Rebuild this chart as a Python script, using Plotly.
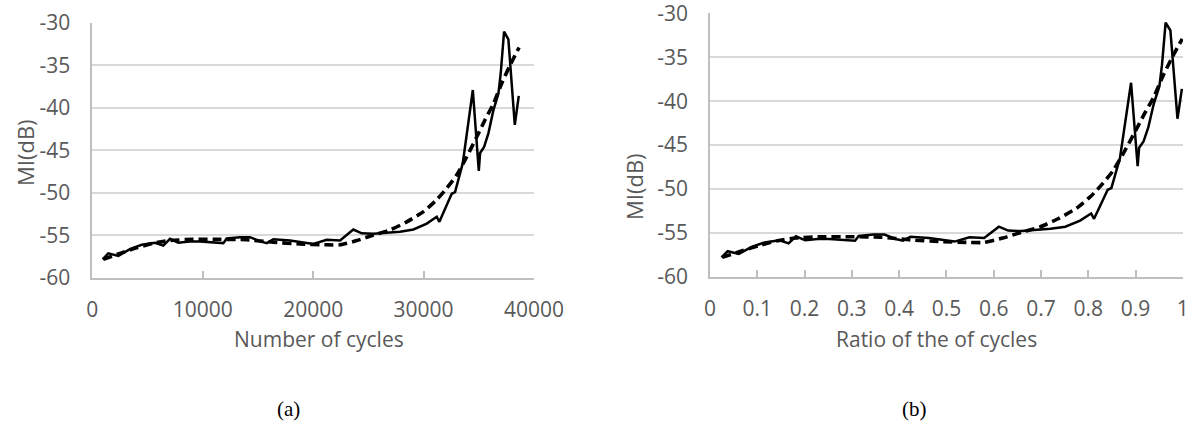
import plotly.graph_objects as go

# ---- data ----
cycles = [940, 1450, 2360, 3410, 4470, 5680, 6430, 7040, 7790, 8800, 9760, 10960,
          11870, 12170, 13380, 14280, 15190, 15800, 16400, 17910, 19110, 20020,
          21230, 22440, 23640, 24400, 25460, 26670, 27870, 29080, 30290, 31190,
          31430, 32040, 32550, 32850, 33550, 34460, 35000, 35120, 35480, 35870,
          36320, 36780, 36990, 37290, 37680, 38260, 38620]
mi_db = [-57.8, -57.1, -57.4, -56.6, -56.1, -55.85, -56.2, -55.4, -55.85, -55.7,
         -55.7, -55.85, -55.9, -55.35, -55.2, -55.2, -55.7, -55.9, -55.45, -55.6,
         -55.85, -56.0, -55.5, -55.6, -54.3, -54.75, -54.8, -54.7, -54.55, -54.3,
         -53.6, -52.8, -53.4, -51.6, -50.1, -49.9, -46.5, -37.9, -47.4, -45.3,
         -44.6, -43.0, -40.3, -38.3, -35.9, -31.05, -31.95, -42.0, -38.6]

trend_cycles = [1000, 2510, 4020, 5530, 7040, 9150, 11570, 13990, 16400, 18810,
                21230, 22440, 23950, 25460, 26970, 28480, 29990, 31190, 32100,
                33000, 33910, 34820, 35570, 36330, 37080, 37830, 38650]
trend_db = [-57.8, -57.1, -56.45, -55.9, -55.6, -55.45, -55.45, -55.5, -55.8, -56.0,
            -56.1, -56.1, -55.6, -54.95, -54.35, -53.4, -52.2, -50.8, -49.45,
            -47.9, -45.75, -43.4, -41.4, -39.5, -37.1, -35.0, -32.9]

total_cycles = 38700
ratio = [c / total_cycles for c in cycles]
trend_ratio = [c / total_cycles for c in trend_cycles]

y_ticks = [-60, -55, -50, -45, -40, -35, -30]
y_labels = ["-60", "-55", "-50", "-45", "-40", "-35", "-30"]
x1_ticks = [0, 10000, 20000, 30000, 40000]
x1_labels = ["0", "10000", "20000", "30000", "40000"]
x2_ticks = [0, 0.1, 0.2, 0.3, 0.4, 0.5, 0.6, 0.7, 0.8, 0.9, 1.0]
x2_labels = ["0", "0.1", "0.2", "0.3", "0.4", "0.5", "0.6", "0.7", "0.8", "0.9", "1"]

W, H = 1191, 433
GREY_TXT = "#595959"
FONT = "Open Sans"

fig = go.Figure()
solid = dict(color="black", width=2.5)
dashed = dict(color="black", width=3.6, dash="9px,5px", shape="spline", smoothing=0.6)

fig.add_trace(go.Scatter(x=cycles, y=mi_db, mode="lines", line=solid, xaxis="x", yaxis="y"))
fig.add_trace(go.Scatter(x=trend_cycles, y=trend_db, mode="lines", line=dashed, xaxis="x", yaxis="y"))
fig.add_trace(go.Scatter(x=ratio, y=mi_db, mode="lines", line=solid, xaxis="x2", yaxis="y2"))
fig.add_trace(go.Scatter(x=trend_ratio, y=trend_db, mode="lines", line=dashed, xaxis="x2", yaxis="y2"))

def px_x(a, b):
    return [a / W, b / W]

def px_y(top, bottom):
    return [1 - bottom / H, 1 - top / H]

xcommon = dict(showgrid=False, showline=True, linecolor="#bfbfbf", linewidth=1.5,
               ticks="inside", ticklen=7, tickcolor="#bfbfbf", tickwidth=1.5,
               tickfont=dict(family=FONT, size=21, color=GREY_TXT),
               zeroline=False, automargin=False, ticklabelstandoff=12,
               ticklabeloverflow="allow", tickmode="array")
ycommon = dict(range=[-60, -29.99], tickmode="array", tickvals=y_ticks, ticktext=y_labels,
               showgrid=True, gridcolor="#d9d9d9", gridwidth=1.5,
               showline=True, linecolor="#bfbfbf", linewidth=1.5, ticks="",
               tickfont=dict(family=FONT, size=21, color=GREY_TXT),
               zeroline=False, automargin=False, ticklabelstandoff=16,
               ticklabeloverflow="allow")

fig.update_layout(
    width=W, height=H, showlegend=False,
    margin=dict(l=0, r=0, t=0, b=0),
    paper_bgcolor="white", plot_bgcolor="white",
    xaxis=dict(domain=px_x(92.3, 534), range=[0, 40000], tickvals=x1_ticks,
               ticktext=x1_labels, anchor="y", **xcommon),
    yaxis=dict(domain=px_y(22.7, 278), anchor="x", **ycommon),
    xaxis2=dict(domain=px_x(710, 1183), range=[0, 1.0003], tickvals=x2_ticks,
                ticktext=x2_labels, anchor="y2", **xcommon),
    yaxis2=dict(domain=px_y(13.3, 276.7), anchor="x2", **ycommon),
)

def ann(text, x, y, size, family=FONT, color=GREY_TXT, angle=0):
    fig.add_annotation(text=text, x=x / W, y=1 - y / H, xref="paper", yref="paper",
                       showarrow=False, textangle=angle, xanchor="center", yanchor="middle",
                       font=dict(family=family, size=size, color=color))

ann("Number of cycles", 319, 339, 21)
ann("Ratio of the of cycles", 936, 339, 21)
ann("MI(dB)", 25, 153, 22, angle=-90)
ann("MI(dB)", 634, 187, 22, angle=-90)
ann("(a)", 288, 409, 21, family="Liberation Serif", color="black")
ann("(b)", 914, 409, 21, family="Liberation Serif", color="black")

fig.write_html("out.html", config={"displayModeBar": False},
               post_script="document.body.style.margin='0px';")
